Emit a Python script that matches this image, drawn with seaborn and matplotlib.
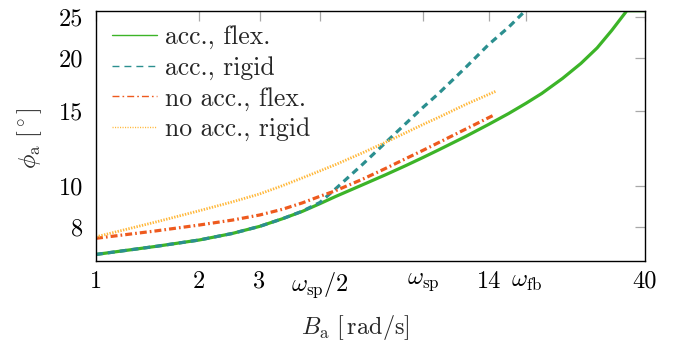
import matplotlib
matplotlib.use("Agg")
import matplotlib.pyplot as plt
import seaborn as sns
import pandas as pd
from matplotlib.lines import Line2D
from matplotlib.ticker import FixedLocator, NullLocator

# ---- data ----
x_acc_flex = [1, 1.5, 2, 2.5, 3, 3.5, 4, 4.5, 5, 6, 7, 8, 9, 10, 12, 14, 16, 18, 20, 23, 26, 29, 32, 35.4, 40]
y_acc_flex = [6.91, 7.22, 7.47, 7.74, 8.04, 8.38, 8.72, 9.09, 9.45, 10.07, 10.63, 11.16, 11.67, 12.16,
              13.08, 13.96, 14.8, 15.65, 16.5, 17.9, 19.4, 21.1, 23.2, 25.8, 25.8]

x_acc_rigid = [1, 1.5, 2, 2.5, 3, 3.5, 4, 4.5, 5, 6, 7, 8, 9, 10, 12, 14, 16, 17.9]
y_acc_rigid = [6.91, 7.22, 7.47, 7.74, 8.04, 8.38, 8.73, 9.15, 9.85, 11.25, 12.65, 14.0, 15.3, 16.5,
               19.0, 21.5, 23.6, 25.8]

x_noacc_flex = [1, 1.5, 2, 2.5, 3, 3.5, 4, 4.5, 5, 6, 7, 8, 9, 10, 12, 14.4]
y_noacc_flex = [7.54, 7.85, 8.1, 8.32, 8.55, 8.82, 9.13, 9.46, 9.75, 10.38, 11.0, 11.59, 12.13, 12.65,
                13.61, 14.64]

x_noacc_rigid = [1, 1.5, 2, 2.5, 3, 3.5, 4, 4.5, 5, 6, 7, 8, 9, 10, 12, 14.7]
y_noacc_rigid = [7.6, 8.24, 8.75, 9.18, 9.58, 10.02, 10.45, 10.85, 11.23, 11.97, 12.67, 13.33, 13.95,
                 14.5, 15.55, 16.7]

labels = ["acc., flex.", "acc., rigid", "no acc., flex.", "no acc., rigid"]
xtick_vals = [1, 2, 3, 4.5, 9, 14, 18, 40]
xtick_labels = ["1", "2", "3", r"$\omega_\mathrm{sp}/2$", r"$\omega_\mathrm{sp}$", "14",
                r"$\omega_\mathrm{fb}$", "40"]
ytick_vals = [8, 10, 15, 20, 25]
ytick_labels = ["8", "10", "15", "20", "25"]

# ---- style ----
sns.set_theme(style="white")
plt.rcParams.update({
    "font.family": "serif",
    "font.serif": ["cmr10", "DejaVu Serif"],
    "mathtext.fontset": "cm",
    "axes.unicode_minus": False,
    "axes.formatter.use_mathtext": True,
    "lines.scale_dashes": False,
})

colors = ["#3cb428", "#2b8f8f", "#ee5a1e", "#ffb83a"]
styles = [
    dict(linestyle="-"),
    dict(linestyle=(0, (5, 3.6))),
    dict(linestyle=(0, (5, 2.2, 1.2, 2.2))),
    dict(linestyle=(0, (1.0, 1.0))),
]
widths = [2.3, 2.3, 2.3, 2.0]

fig = plt.figure(figsize=(6.73, 3.47), dpi=100)
ax = fig.add_axes([96 / 673, 1 - 260.7 / 347, (645 - 96) / 673, (260.7 - 10.7) / 347])

series = [(x_acc_flex, y_acc_flex), (x_acc_rigid, y_acc_rigid),
          (x_noacc_flex, y_noacc_flex), (x_noacc_rigid, y_noacc_rigid)]
for i in range(4):
    xs, ys = series[i]
    df = pd.DataFrame({"x": xs, "y": ys})
    sns.lineplot(data=df, x="x", y="y", ax=ax, color=colors[i], lw=widths[i],
                 **styles[i], legend=False, sort=False)

ax.set_xscale("log")
ax.set_yscale("log")
ax.set_xlim(1, 40)
ax.set_ylim(6.68, 25.8)

ax.xaxis.set_major_locator(FixedLocator(xtick_vals))
ax.xaxis.set_minor_locator(NullLocator())
ax.set_xticklabels(xtick_labels)
ax.yaxis.set_major_locator(FixedLocator(ytick_vals))
ax.yaxis.set_minor_locator(NullLocator())
ax.set_yticklabels(ytick_labels)

ax.tick_params(axis="both", which="major", direction="in", length=7.5, width=0.9,
               color="#a8a8a8", labelsize=17.5, top=True, right=True, labelcolor="black")
ax.tick_params(axis="x", pad=7)
ax.tick_params(axis="y", pad=9)

for sp in ax.spines.values():
    sp.set_color("black")
    sp.set_linewidth(1.0)

ax.set_xlabel(r"$B_\mathrm{a}\ [\,\mathrm{rad/s}]$", fontsize=17.5)
ax.set_ylabel(r"$\phi_\mathrm{a}\ [^\circ]$", fontsize=17.5)
ax.xaxis.set_label_coords(0.472, -0.21)
ax.yaxis.set_label_coords(-0.095, 0.49)

handles = [Line2D([], [], color=colors[i], lw=1.0, **styles[i]) for i in range(4)]
handles[3] = Line2D([], [], color=colors[3], lw=1.0, linestyle=(0, (0.8, 1.0)))
leg = ax.legend(handles, labels, loc="upper left", bbox_to_anchor=(0.03, 0.943),
                frameon=False, fontsize=18.5, handlelength=1.75, handletextpad=0.3,
                labelspacing=0.27, borderpad=0, borderaxespad=0)

fig.savefig("out.png", dpi=100)
